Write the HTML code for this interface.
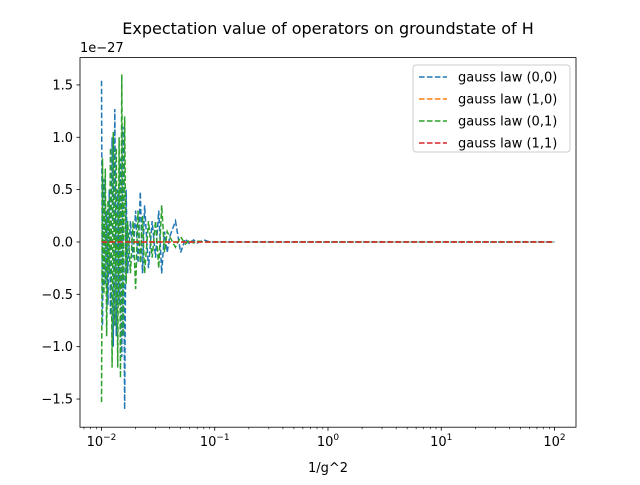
<!DOCTYPE html>
<html><head><meta charset="utf-8"><style>
body{margin:0;background:#fff;}
svg text{font-family:"DejaVu Sans","Liberation Sans",sans-serif;fill:#000;}
</style></head><body>
<svg id="chart" width="640" height="480" xmlns="http://www.w3.org/2000/svg">
<rect width="640" height="480" fill="#fff"/>
<text x="328" y="34" font-size="16" text-anchor="middle">Expectation value of operators on groundstate of H</text>
<g id="plot"></g>
<rect x="80" y="57.6" width="496" height="369.6" fill="none" stroke="#000" stroke-width="0.8"/>
<g id="axes"></g>
<text x="80" y="52" font-size="13">1e−27</text>
<text x="328" y="472" font-size="13" text-anchor="middle">1/g^2</text>
<g>
<rect x="413" y="65" width="157" height="87" rx="3" fill="#fff" fill-opacity="0.8" stroke="#ccc"/>
<g id="legend"></g>
</g>
</svg>
<script>
const xs=[0.0100,0.0102,0.0105,0.0108,0.0111,0.0114,0.0117,0.0120,0.0124,0.0127,0.0131,0.0135,0.0139,0.0143,0.0147,0.0151,0.0155,0.0160,0.0165,0.0170,0.0180,0.0190,0.0200,0.0210,0.0220,0.0230,0.0240,0.0260,0.0280,0.0300,0.0320,0.0340,0.0360,0.0380,0.0400,0.0450,0.0500,0.0550,0.0600,0.0650,0.0700,0.0800,0.0900,0.1,1,10,100];
const gauss00=[1.54,-0.8,0.6,-0.4,0.3,-0.6,0.5,-0.7,1.0,-1.0,1.27,-0.9,0.5,-0.6,0.8,-1.1,1.1,-1.6,0.5,-0.3,0.2,-0.15,0.3,-0.2,0.48,-0.3,0.35,-0.25,0.2,-0.15,0.3,-0.3,0.1,-0.1,0.05,0.2,-0.1,0.03,-0.02,0.02,-0.01,0.02,0,0,0,0,0];
const gauss10=xs.map(()=>0);
const gauss01=[-1.53,0.8,-0.5,0.7,-0.9,0.4,-0.3,0.9,-1.2,1.05,-0.8,0.9,-1.2,1.0,-1.3,1.6,-0.9,1.2,-0.4,0.2,-0.3,0.2,-0.45,0.3,-0.2,0.25,-0.3,0.2,-0.15,0.2,-0.25,0.35,-0.1,0.1,0.05,-0.05,0.05,-0.02,0.02,-0.01,0.01,0,0,0,0,0,0];
const gauss11=xs.map(()=>0);
const seriesNames=["gauss law (0,0)","gauss law (1,0)","gauss law (0,1)","gauss law (1,1)"];
const yTicks=[-1.5,-1.0,-0.5,0.0,0.5,1.0,1.5];
const xTickExp=[-2,-1,0,1,2];

const NS="http://www.w3.org/2000/svg";
const L=80,R=576,T=57.6,B=427.2;
const xmin=-2.19,xmax=2.19,ymin=-1.769,ymax=1.761;
const X=v=>L+(Math.log10(v)-xmin)/(xmax-xmin)*(R-L);
const Y=v=>B-(v-ymin)/(ymax-ymin)*(B-T);
const colors=["#1f77b4","#ff7f0e","#2ca02c","#d62728"];
const data=[gauss00,gauss10,gauss01,gauss11];
function mk(t,a,p){const e=document.createElementNS(NS,t);for(const k in a)e.setAttribute(k,a[k]);p.appendChild(e);return e;}
const plot=document.getElementById('plot');
data.forEach((s,i)=>{
 const p=mk('path',{d:s.map((v,j)=>(j?'L':'M')+X(xs[j]).toFixed(2)+' '+Y(v).toFixed(2)).join(''),fill:'none',stroke:colors[i],'stroke-width':1.5,'stroke-dasharray':'5.55 2.4'},plot);
 
 
});
const ax=document.getElementById('axes');
yTicks.forEach(v=>{
 const y=Y(v);
 mk('line',{x1:L-3.5,x2:L,y1:y,y2:y,stroke:'#000','stroke-width':0.8},ax);
 const t=mk('text',{x:L-7,y:y+4.5,'font-size':13,'text-anchor':'end'},ax);
 t.textContent=v.toFixed(1).replace('-','−');
 
 
});
xTickExp.forEach(e=>{
 const x=X(Math.pow(10,e));
 mk('line',{x1:x,x2:x,y1:B,y2:B+3.5,stroke:'#000','stroke-width':0.8},ax);
 const t=mk('text',{x:x,y:B+19,'font-size':13,'text-anchor':'middle'},ax);
 t.innerHTML='10<tspan dy="-6" font-size="9">'+(e<0?'−'+(-e):e)+'</tspan>';
 
 
});
for(let e=-3;e<=2;e++)for(let m=2;m<10;m++){const v=m*Math.pow(10,e);const lv=Math.log10(v);if(lv<xmin||lv>xmax)continue;const x=X(v);mk('line',{x1:x,x2:x,y1:B,y2:B+2,stroke:'#000','stroke-width':0.6},ax);}
const lg=document.getElementById('legend');
seriesNames.forEach((n,i)=>{
 const y=77+i*22;
 mk('line',{x1:419,x2:447,y1:y,y2:y,stroke:colors[i],'stroke-width':1.5,'stroke-dasharray':'5.55 2.4'},lg);
 const t=mk('text',{x:458,y:y+4.5,'font-size':13},lg);
 t.textContent=n;
 
 
});
</script>
</body></html>
